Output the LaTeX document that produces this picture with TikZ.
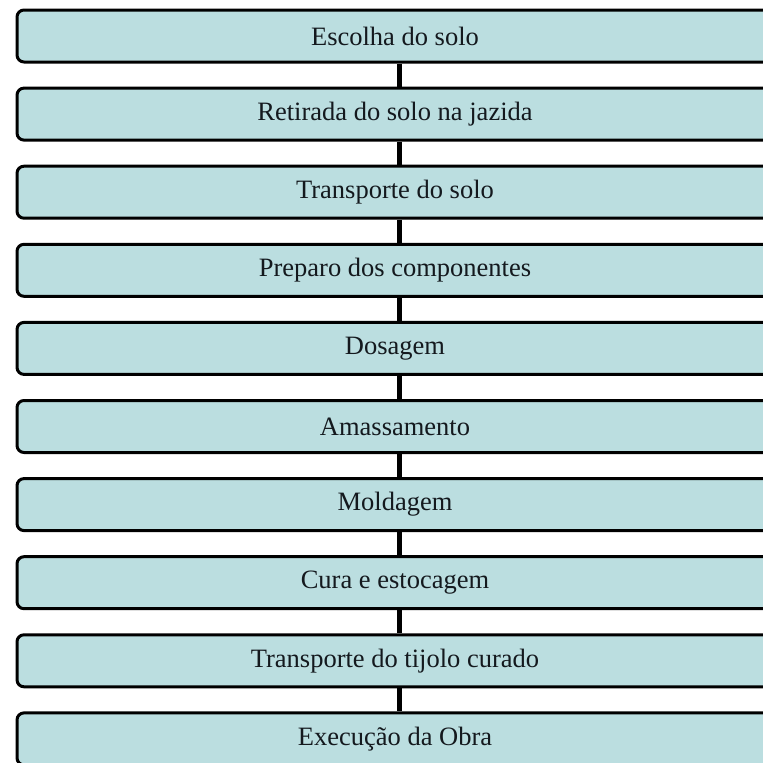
\documentclass[tikz,border=0pt]{standalone}
\usepackage{fontspec}
\setmainfont{Liberation Serif}
\definecolor{boxfill}{RGB}{187,222,224}
\definecolor{txt}{RGB}{20,25,30}
\begin{document}
\begin{tikzpicture}[x=1pt,y=-1pt,
  stepbox/.style={draw=black,line width=3pt,fill=boxfill,rounded corners=7pt,
    minimum width=756pt,minimum height=52pt,inner sep=0pt,text=txt,
    font=\fontsize{26.5}{30}\selectfont},
  link/.style={draw=black,line width=5pt}]
\useasboundingbox (0,0) rectangle (763,763);
\clip (0,0) rectangle (763,763);
\foreach \i/\t in {0/{Escolha do solo},1/{Retirada do solo na jazida},2/{Transporte do solo},3/{Preparo dos componentes},4/{Dosagem},5/{Amassamento},6/{Moldagem},7/{Cura e estocagem},8/{Transporte do tijolo curado},9/{Execução da Obra}}{
  \node[stepbox] (b\i) at (395,{36+78.1*\i}) {\t};
}
\foreach \i [evaluate=\i as \j using int(\i+1)] in {0,...,8}{
  \draw[link] ([xshift=4pt]b\i.south) -- ([xshift=4pt]b\j.north);
}
\end{tikzpicture}
\end{document}
